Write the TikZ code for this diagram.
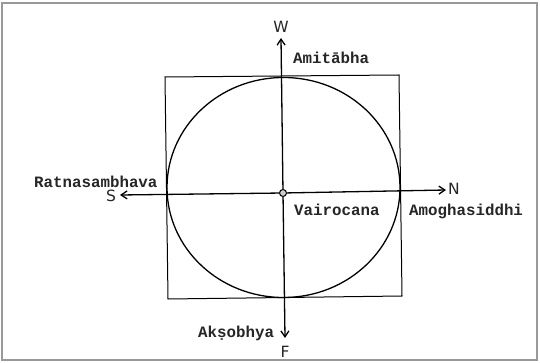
\documentclass[tikz,border=0pt]{standalone}
\usepackage{fontspec}
\usetikzlibrary{arrows.meta}
\newfontfamily\labfont{Liberation Mono}[BoldFont={Liberation Mono Bold}]
\newfontfamily\dirfont{DejaVu Sans}
\begin{document}
\begin{tikzpicture}[x=1pt,y=-1pt,
  sqline/.style={line width=1pt,black},
  axisarrow/.style={line width=1.3pt,black,-{Straight Barb[length=6pt,width=8pt]}},
  namelab/.style={font=\labfont\bfseries\fontsize{15.8}{16}\selectfont,inner sep=0pt,anchor=base west,text=black!85},
  dirlab/.style={font=\dirfont\fontsize{15.5}{16}\selectfont,inner sep=0pt,text=black!85}]
\useasboundingbox (0,0) rectangle (540,363);
\fill[white] (0,0) rectangle (540,363);
\draw[line width=2pt,gray!80] (2,3) rectangle (537,360);
% square
\coordinate (tl) at (165,77);
\coordinate (tr) at (399,75);
\coordinate (br) at (402,296);
\coordinate (bl) at (168,299);
\draw[sqline] (tl) -- (tr) -- (br) -- (bl) -- cycle;
% circle
\draw[line width=1.3pt] (283.5,187.5) ellipse [x radius=116.5, y radius=110];
% center
\node[circle,draw,line width=1pt,fill=gray!40,minimum size=7pt,inner sep=0pt] (c) at (283,193) {};
% axes ends
\coordinate (wt) at (281,38);
\coordinate (fb) at (285,338);
\coordinate (sl) at (120,195);
\coordinate (nr) at (446,190);
\draw[axisarrow] (c) -- (wt);
\draw[axisarrow] (c) -- (fb);
\draw[axisarrow] (c) -- (sl);
\draw[axisarrow] (c) -- (nr);
% direction labels
\node[dirlab] (W) at (281,27) {W};
\node[dirlab] (F) at (285,352) {F};
\node[dirlab] (S) at (111,196) {S};
\node[dirlab] (N) at (454,189) {N};
% names
\node[namelab] (ami) at (293,64) {Amitābha};
\node[namelab] (rat) at (34,188) {Ratnasambhava};
\node[namelab] (vai) at (294,215) {Vairocana};
\node[namelab] (amo) at (409,215) {Amoghasiddhi};
\node[namelab] (aks) at (198,337) {Akṣobhya};
\end{tikzpicture}
\end{document}
